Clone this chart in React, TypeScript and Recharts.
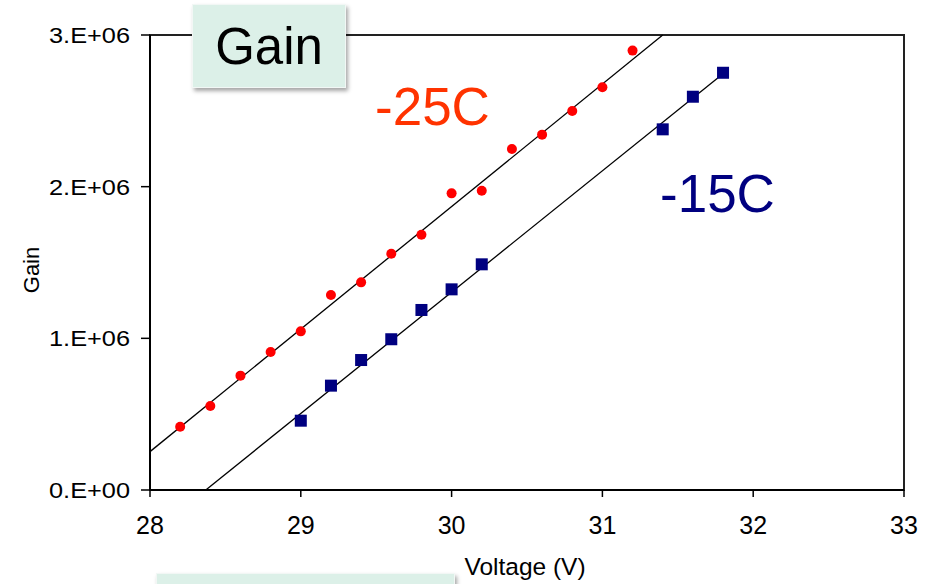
import { ScatterChart, Scatter, XAxis, YAxis, ReferenceArea, Label } from "recharts";

// -25C run (red dots)
const coldVolts = [28.2, 28.4, 28.6, 28.8, 29.0, 29.2, 29.4, 29.6, 29.8, 30.0, 30.2, 30.4, 30.6, 30.8, 31.0, 31.2];
const coldGain = [0.417, 0.554, 0.754, 0.91, 1.046, 1.286, 1.369, 1.558, 1.683, 1.956, 1.973, 2.248, 2.343, 2.499, 2.655, 2.897];

// -15C run (navy squares)
const warmVolts = [29.0, 29.2, 29.4, 29.6, 29.8, 30.0, 30.2, 31.4, 31.6, 31.8];
const warmGain = [0.457, 0.688, 0.857, 0.994, 1.187, 1.323, 1.488, 2.378, 2.593, 2.751];

// linear fit end points
const coldFitVolts = [28.0, 31.4];
const coldFitGain = [0.253, 3.0];
const warmFitVolts = [28.37, 31.8];
const warmFitGain = [0.0, 2.745];

const xTicks = [28, 29, 30, 31, 32, 33];
const yTicks = [0, 1e6, 2e6, 3e6];
const yTickLabels = ["0.E+00", "1.E+06", "2.E+06", "3.E+06"];

const toPoints = (xs: number[], ys: number[]) => xs.map((x, i) => ({ x, y: ys[i] * 1e6 }));

const coldData = toPoints(coldVolts, coldGain);
const warmData = toPoints(warmVolts, warmGain);
const coldFit = toPoints(coldFitVolts, coldFitGain);
const warmFit = toPoints(warmFitVolts, warmFitGain);

const FONT = "'Liberation Sans', Arial, sans-serif";

function YTick({ x, y, payload }: any) {
  const idx = yTicks.indexOf(payload.value);
  return (
    <text
      x={x}
      y={y}
      dy="0.36em"
      textAnchor="end"
      fontSize={22}
      fill="#000"
      fontFamily={FONT}
      textLength={81}
      lengthAdjust="spacingAndGlyphs"
    >
      {yTickLabels[idx]}
    </text>
  );
}

function XTick({ x, y, payload }: any) {
  return (
    <text x={x} y={y + 18} textAnchor="middle" fontSize={25} fill="#000" fontFamily={FONT}>
      {payload.value}
    </text>
  );
}

const greenBox = {
  position: "absolute" as const,
  background: "#dcf0e8",
  border: "1px solid #f2f7f5",
  boxShadow: "2px 3px 4px rgba(0,0,0,0.35)",
  boxSizing: "border-box" as const,
};

export default function App() {
  return (
    <div
      style={{
        position: "absolute",
        left: 0,
        top: 0,
        width: 932,
        height: 584,
        overflow: "hidden",
        background: "#fff",
        fontFamily: FONT,
      }}
    >
      <ScatterChart width={932} height={584} margin={{ top: 35, right: 28, bottom: 0, left: 0 }}>
        <XAxis
          dataKey="x"
          type="number"
          domain={[28, 33]}
          ticks={xTicks}
          height={94}
          tickSize={7}
          tickMargin={19}
          tick={<XTick />}
          axisLine={{ stroke: "#000", strokeWidth: 2 }}
          tickLine={{ stroke: "#000", strokeWidth: 1.5 }}
        >
          <Label
            content={() => (
              <text x={525} y={575} textAnchor="middle" fontSize={24.5} fill="#000" fontFamily={FONT}>
                Voltage (V)
              </text>
            )}
          />
        </XAxis>
        <YAxis
          dataKey="y"
          type="number"
          domain={[0, 3e6]}
          ticks={yTicks}
          width={150}
          tickSize={9}
          tickMargin={11}
          tick={<YTick />}
          axisLine={{ stroke: "#000", strokeWidth: 2 }}
          tickLine={{ stroke: "#000", strokeWidth: 1.5 }}
        >
          <Label
            content={() => (
              <text
                x={0}
                y={0}
                transform="translate(39 270) rotate(-90)"
                textAnchor="middle"
                fontSize={22}
                fill="#000"
                fontFamily={FONT}
              >
                Gain
              </text>
            )}
          />
        </YAxis>
        <ReferenceArea x1={28} x2={33} y1={0} y2={3e6} fill="none" stroke="#222" strokeWidth={2} ifOverflow="visible" />
        <Scatter
          data={coldFit}
          line={{ stroke: "#000", strokeWidth: 1.3 }}
          shape={() => <g />}
          isAnimationActive={false}
        />
        <Scatter
          data={warmFit}
          line={{ stroke: "#000", strokeWidth: 1.3 }}
          shape={() => <g />}
          isAnimationActive={false}
        />
        <Scatter
          data={coldData}
          shape={(p: any) => <circle cx={p.cx} cy={p.cy} r={5} fill="#ff0000" />}
          isAnimationActive={false}
        />
        <Scatter
          data={warmData}
          shape={(p: any) => <rect x={p.cx - 6} y={p.cy - 6} width={12} height={12} fill="#000080" />}
          isAnimationActive={false}
        />
      </ScatterChart>

      <svg
        width={932}
        height={584}
        style={{ position: "absolute", left: 0, top: 0, pointerEvents: "none" }}
      >
        <text x={375} y={125} fontSize={53} fill="#ff3300" fontFamily={FONT}>
          -25C
        </text>
        <text x={660} y={212} fontSize={53} fill="#000080" fontFamily={FONT}>
          -15C
        </text>
      </svg>

      <div
        style={{
          ...greenBox,
          left: 192,
          top: 4,
          width: 154,
          height: 84,
          display: "flex",
          alignItems: "center",
          justifyContent: "center",
          fontSize: 51,
          color: "#000",
        }}
      >
        Gain
      </div>
      <div style={{ ...greenBox, left: 156, top: 573, width: 299, height: 40 }} />
    </div>
  );
}
